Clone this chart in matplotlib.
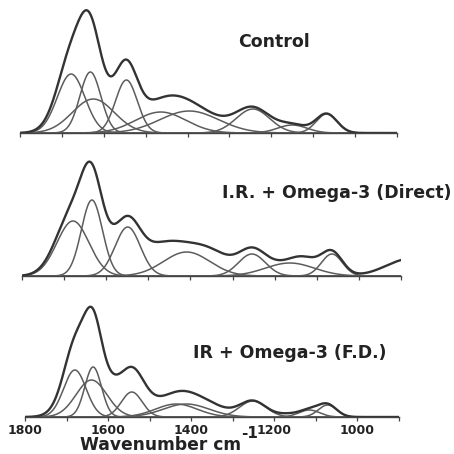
import numpy as np
import matplotlib
matplotlib.use("Agg")
import matplotlib.pyplot as plt
from matplotlib.ticker import MultipleLocator

# ---------------- data ----------------
tick_values = [1800, 1600, 1400, 1200, 1000]
panel_labels = ["Control", "I.R. + Omega-3 (Direct)", "IR + Omega-3 (F.D.)"]
x_label = "Wavenumber cm"
x_label_sup = "-1"

# fitted band components: centre (cm-1), height (a.u.), sigma (cm-1)
control_centers = [1678, 1632, 1625, 1546, 1464, 1396, 1244, 1150, 1068]
control_heights = [59, 61, 34, 53, 21, 22, 24, 8, 19]
control_widths = [33, 25, 50, 26, 60, 70, 40, 35, 25]
# residual bands (measured spectrum minus fit), only in the measured envelope
control_res_centers = [1690]
control_res_heights = [3]
control_res_widths = [40]

direct_centers = [1679, 1634, 1549, 1409, 1254, 1164, 1064]
direct_heights = [55, 76, 49, 24, 22, 13, 22]
direct_widths = [38, 25, 30, 55, 32, 58, 25]
direct_res_centers = [1690, 1595, 1480, 1340, 1130, 880]
direct_res_heights = [8, 14, 20, 14, 8, 17]
direct_res_widths = [40, 28, 45, 45, 30, 55]

fd_centers = [1680, 1636, 1640, 1543, 1436, 1412, 1252, 1116, 1072]
fd_heights = [47, 50, 37, 25, 13, 13, 16, 7, 12]
fd_widths = [27, 20, 37, 25, 50, 55, 32, 25, 22]
fd_res_centers = [1690, 1585, 1525, 1345, 1170]
fd_res_heights = [10, 20, 16, 5, 2.5]
fd_res_widths = [35, 32, 30, 40, 25]


def gauss(x, c, h, w):
    return h * np.exp(-0.5 * ((x - c) / w) ** 2)


panels = [
    (control_centers, control_heights, control_widths,
     control_res_centers, control_res_heights, control_res_widths),
    (direct_centers, direct_heights, direct_widths,
     direct_res_centers, direct_res_heights, direct_res_widths),
    (fd_centers, fd_heights, fd_widths,
     fd_res_centers, fd_res_heights, fd_res_widths),
]

# ---------------- layout ----------------
W = H = 454
fig = plt.figure(figsize=(W / 100, H / 100), dpi=100)
# (left px, right px, baseline px)
boxes = [(20, 397, 133), (22, 401, 276), (25, 399, 417)]
AX_H = 125

x = np.linspace(1800, 900, 1500)
for i, (box, p) in enumerate(zip(boxes, panels)):
    l, r, base = box
    ax = fig.add_axes([l / W, 1 - base / H, (r - l) / W, AX_H / H])
    cs, hs, ws, rcs, rhs, rws = p
    comps = [gauss(x, c, h, w) for c, h, w in zip(cs, hs, ws)]
    env = np.sum(comps, axis=0)
    for c, h, w in zip(rcs, rhs, rws):
        env = env + gauss(x, c, h, w)
    for y in comps:
        ax.plot(x, y, color="#5c5c5c", lw=1.1, solid_capstyle="round")
    ax.plot(x, env, color="#333333", lw=1.7)
    ax.set_xlim(1800, 900)
    ax.set_ylim(0, AX_H)
    for s in ["top", "right", "left"]:
        ax.spines[s].set_visible(False)
    ax.spines["bottom"].set_color("#444444")
    ax.spines["bottom"].set_linewidth(1.0)
    ax.set_yticks([])
    ax.xaxis.set_major_locator(MultipleLocator(100))
    ax.tick_params(axis="x", direction="out", length=3, width=0.9,
                   color="#444444", pad=2)
    if i == 2:
        ax.set_xticks(tick_values)
        ax.xaxis.set_minor_locator(MultipleLocator(100))
        ax.tick_params(axis="x", which="both", direction="out", length=3,
                       width=0.9, color="#444444")
        for t in ax.get_xticklabels():
            t.set_fontfamily("DejaVu Sans")
            t.set_fontweight("bold")
            t.set_fontsize(9)
            t.set_color("#222222")
    else:
        ax.set_xticklabels([])

fp = dict(family="DejaVu Sans", weight="bold", color="#222222")
fig.text(274 / W, 1 - 42 / H, panel_labels[0], ha="center", va="center",
         fontsize=12.5, **fp)
fig.text(222 / W, 1 - 193 / H, panel_labels[1], ha="left", va="center",
         fontsize=12.5, **fp)
fig.text(193 / W, 1 - 353 / H, panel_labels[2], ha="left", va="center",
         fontsize=12.5, **fp)

fig.text(80 / W, 1 - 450 / H, x_label, ha="left", va="baseline",
         fontsize=12.3, **fp)
fig.text(241 / W, 1 - 438 / H, x_label_sup, ha="left", va="baseline",
         fontsize=11, **fp)

fig.savefig("out.png", dpi=100)
